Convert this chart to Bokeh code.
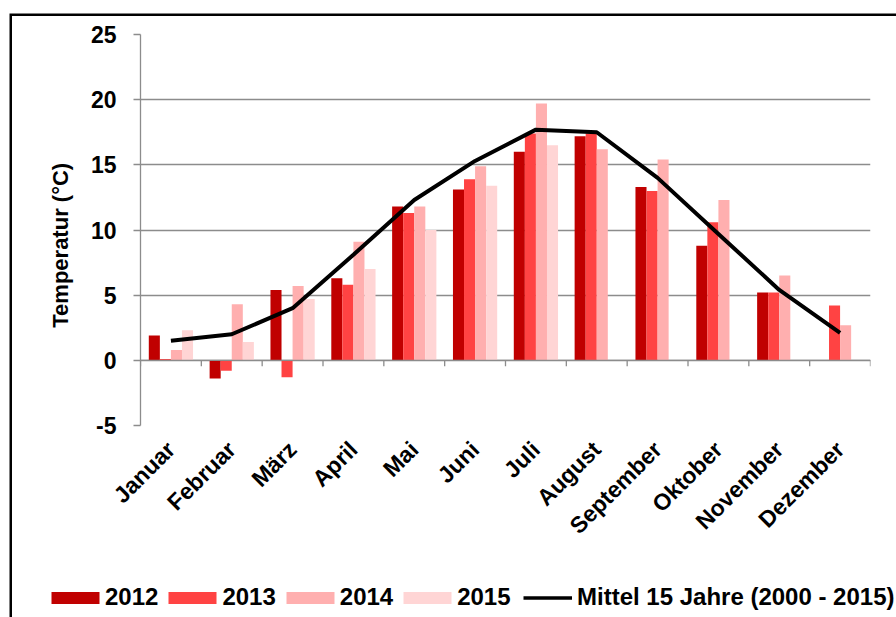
import numpy as np
from math import pi
from bokeh.plotting import figure
from bokeh.models import (Range1d, FixedTicker, Span, Legend, LegendItem,
                          ColumnDataSource)
from bokeh.embed import file_html
from bokeh.resources import INLINE

nan = float("nan")

months = ["Januar", "Februar", "März", "April", "Mai", "Juni", "Juli",
          "August", "September", "Oktober", "November", "Dezember"]
t2012 = [1.9, -1.4, 5.4, 6.3, 11.8, 13.1, 16.0, 17.2, 13.3, 8.8, 5.2, nan]
t2013 = [0.1, -0.8, -1.3, 5.8, 11.3, 13.9, 17.4, 17.4, 13.0, 10.6, 5.2, 4.2]
t2014 = [0.8, 4.3, 5.7, 9.1, 11.8, 14.9, 19.7, 16.2, 15.4, 12.3, 6.5, 2.7]
t2015 = [2.3, 1.4, 4.7, 7.0, 10.0, 13.4, 16.5, nan, nan, nan, nan, nan]
mittel = [1.5, 2.0, 4.0, 8.1, 12.3, 15.3, 17.7, 17.5, 14.0, 9.7, 5.4, 2.1]
years = ["2012", "2013", "2014", "2015"]
mittel_label = "Mittel 15 Jahre (2000 - 2015)"
y_title = "Temperatur (°C)"
y_ticks = [-5, 0, 5, 10, 15, 20, 25]
y_tick_labels = ["-5", "0", "5", "10", "15", "20", "25"]

colors = ["#C00000", "#FF4343", "#FFAFAF", "#FFD5D5"]
GRAY = "#8C8C8C"
FONT = "Liberation Sans"
LEGEND_H = 40

p = figure(width=896, height=617 - LEGEND_H, x_range=Range1d(0, 12),
           y_range=Range1d(-5, 25), output_backend="svg", toolbar_location=None,
           min_border_left=140, min_border_right=26, min_border_top=34,
           min_border_bottom=152)
p.outline_line_color = None
p.background_fill_color = "white"
p.border_fill_color = None
# outer chart-area frame: top and left edges
p.styles = {"background-color": "white",
            "box-shadow": "inset 9.5px 13.5px 0 0 white, inset 12px 16px 0 0 black"}

# grid
p.xgrid.visible = False
p.ygrid.ticker = FixedTicker(ticks=y_ticks)
p.ygrid.grid_line_color = GRAY
p.ygrid.grid_line_width = 1.3

# y axis
p.yaxis.ticker = FixedTicker(ticks=y_ticks)
p.yaxis.major_label_overrides = {t: s for t, s in zip(y_ticks, y_tick_labels)}
p.yaxis.axis_line_color = GRAY
p.yaxis.axis_line_width = 1.3
p.yaxis.major_tick_line_color = GRAY
p.yaxis.major_tick_line_width = 1.3
p.yaxis.major_tick_out = 7
p.yaxis.major_tick_in = 0
p.yaxis.minor_tick_line_color = None
p.yaxis.major_label_text_font = FONT
p.yaxis.major_label_text_font_style = "bold"
p.yaxis.major_label_text_font_size = "23px"
p.yaxis.major_label_text_color = "black"
p.yaxis.major_label_standoff = 17
# title sits a little below the plot centre, as in the original
p.yaxis.axis_label = y_title + "\u00a0" * 5
p.yaxis.axis_label_text_font = FONT
p.yaxis.axis_label_text_font_style = "bold"
p.yaxis.axis_label_text_font_size = "22px"
p.yaxis.axis_label_text_color = "black"
p.yaxis.axis_label_standoff = 15

# x axis (labels only)
centers = [i + 0.5 for i in range(len(months))]
p.xaxis.ticker = FixedTicker(ticks=centers)
p.xaxis.major_label_overrides = {c: m for c, m in zip(centers, months)}
p.xaxis.major_label_orientation = pi / 4
p.xaxis.axis_line_color = None
p.xaxis.major_tick_line_color = None
p.xaxis.minor_tick_line_color = None
p.xaxis.major_label_text_font = FONT
p.xaxis.major_label_text_font_style = "bold"
p.xaxis.major_label_text_font_size = "23px"
p.xaxis.major_label_text_color = "black"
p.xaxis.major_label_standoff = 14

# zero line and category ticks
p.add_layout(Span(location=0, dimension="width", line_color=GRAY, line_width=1.3))
bounds = list(range(len(months) + 1))
tick_len = 0.46
p.segment(x0=bounds, y0=[0] * len(bounds), x1=bounds, y1=[-tick_len] * len(bounds),
          line_color=GRAY, line_width=1.3)

# bars
bw = 1 / 5.5
series = [t2012, t2013, t2014, t2015]
bar_sources = []
for j, (vals, col) in enumerate(zip(series, colors)):
    xs = [c + (j - 1.5) * bw for c in centers]
    src = ColumnDataSource(dict(x=xs, top=np.array(vals, dtype=float)))
    bar_sources.append(src)
    p.vbar(x="x", top="top", bottom=0, width=bw, source=src,
           fill_color=col, line_color=None)

# mean line
line_src = ColumnDataSource(dict(x=centers, y=mittel))
p.line(x="x", y="y", source=line_src, line_color="black", line_width=4)

# legend strip: separate canvas (same data, outside its visible range) so the
# legend can start left of the plot area without being clipped
q = figure(width=896, height=LEGEND_H, x_range=Range1d(0, 12), y_range=Range1d(100, 101),
           output_backend="svg", toolbar_location=None,
           x_axis_location=None, y_axis_location=None,
           min_border_left=0, min_border_right=0, min_border_top=0, min_border_bottom=0)
q.outline_line_color = None
q.background_fill_color = None
q.border_fill_color = None
q.xgrid.visible = False
q.ygrid.visible = False
q.styles = {"background-color": "white",
            "box-shadow": "inset 9.5px 0 0 0 white, inset 12px 0 0 0 black"}
legend_bars = [q.vbar(x="x", top="top", bottom=0, width=bw, source=src,
                      fill_color=col, line_color=None)
               for src, col in zip(bar_sources, colors)]
legend_line = q.line(x="x", y="y", source=line_src, line_color="black", line_width=3.5)

common = dict(orientation="horizontal", padding=0, margin=0, border_line_color=None,
              background_fill_alpha=0, label_text_font=FONT,
              label_text_font_style="bold", label_text_font_size="24px",
              label_text_color="black", glyph_height=15, label_height=24)
leg1 = Legend(items=[LegendItem(label=y, renderers=[r]) for y, r in zip(years, legend_bars)],
              location=(45, 6), glyph_width=60, label_standoff=0, spacing=4,
              label_width=53, **common)
leg2 = Legend(items=[LegendItem(label=mittel_label, renderers=[legend_line])],
              location=(523, 6), glyph_width=49, label_standoff=5, spacing=5,
              **common)
q.add_layout(leg1)
q.add_layout(leg2)

open("out.html", "w").write(file_html([p, q], INLINE))
